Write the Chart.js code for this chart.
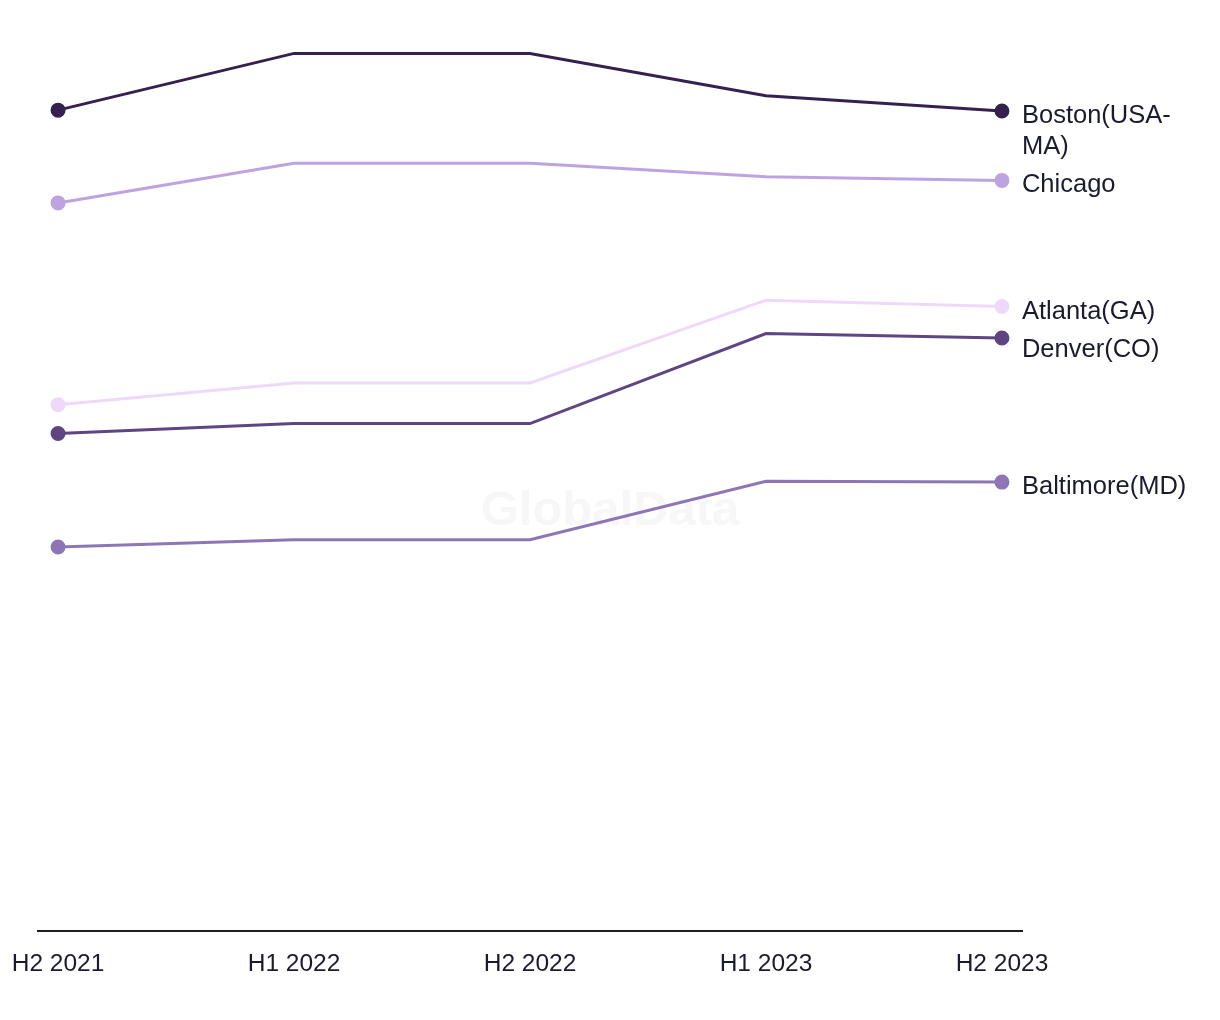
<!DOCTYPE html>
<html>
<head>
<meta charset="utf-8">
<script src="https://cdn.jsdelivr.net/npm/chart.js@4/dist/chart.umd.min.js"></script>
<style>
  html, body { margin: 0; padding: 0; background: #fff; }
  #wrap { width: 1220px; height: 1020px; position: relative; }
</style>
</head>
<body>
<div id="wrap"><canvas id="cityChart"></canvas></div>
<script>
// periods and series (relative index, no axis shown)
const periods = ["H2 2021", "H1 2022", "H2 2022", "H1 2023", "H2 2023"];
const cityNames = ["Boston(USA-MA)", "Chicago", "Atlanta(GA)", "Denver(CO)", "Baltimore(MD)"];
const boston = [91.1, 97.4, 97.4, 92.7, 91.0];
const chicago = [80.8, 85.2, 85.2, 83.7, 83.3];
const atlanta = [58.4, 60.8, 60.8, 70.0, 69.3];
const denver = [55.2, 56.3, 56.3, 66.3, 65.8];
const baltimore = [42.6, 43.4, 43.4, 49.9, 49.8];
const cityColors = ["#35214f", "#bea3e1", "#efd9fb", "#5d4681", "#8e76b6"];

const seriesValues = [boston, chicago, atlanta, denver, baltimore];
const textColor = "#1b1b2f";
const fontFamily = "'Liberation Sans', Arial, sans-serif";

// faint watermark behind the lines
const watermark = {
    id: "watermark",
    beforeDatasetsDraw(chart) {
        const { ctx } = chart;
        ctx.save();
        ctx.font = "bold 49px " + fontFamily;
        ctx.fillStyle = "#f7f7f7";
        ctx.textAlign = "center";
        ctx.textBaseline = "middle";
        ctx.fillText("GlobalData", chart.width / 2, 511);
        ctx.restore();
    }
};

// city names at the end of each line, pushed down when they collide
const endLabels = {
    id: "endLabels",
    afterDatasetsDraw(chart) {
        const { ctx } = chart;
        const lineH = 31;
        ctx.save();
        ctx.font = "25.5px " + fontFamily;
        ctx.fillStyle = textColor;
        ctx.textAlign = "left";
        ctx.textBaseline = "middle";
        let prevBottom = -Infinity;
        chart.data.datasets.forEach((ds, i) => {
            const pts = chart.getDatasetMeta(i).data;
            const last = pts[pts.length - 1];
            const x = last.x + 20;
            const maxW = chart.width - x - 8;
            let lines = [ds.label];
            if (ctx.measureText(ds.label).width > maxW && ds.label.includes("-")) {
                const cut = ds.label.indexOf("-") + 1;
                lines = [ds.label.slice(0, cut), ds.label.slice(cut)];
            }
            let y = Math.max(last.y + 5, prevBottom + 38);
            lines.forEach((t, k) => ctx.fillText(t, x, y + k * lineH));
            prevBottom = y + (lines.length - 1) * lineH;
        });
        ctx.restore();
    }
};

const ctx = document.getElementById("cityChart").getContext("2d");
new Chart(ctx, {
    type: "line",
    data: {
        datasets: cityNames.map((name, i) => ({
            label: name,
            data: seriesValues[i].map((v, k) => ({ x: k, y: v })),
            borderColor: cityColors[i],
            backgroundColor: cityColors[i],
            borderWidth: 3,
            // markers only at the two ends
            pointRadius: seriesValues[i].map((v, k) => (k === 0 || k === seriesValues[i].length - 1) ? 6 : 0),
            pointHoverRadius: 0,
            tension: 0,
            fill: false
        }))
    },
    options: {
        responsive: true,
        maintainAspectRatio: false,
        animation: false,
        layout: { padding: { left: 38, right: 198, top: 30, bottom: 30 } },
        plugins: { legend: { display: false }, tooltip: { enabled: false } },
        scales: {
            x: {
                type: "linear",
                min: -0.085,
                max: 4.085,
                grid: { display: false },
                border: { display: true, color: textColor, width: 2 },
                // let the first label hang past the axis start
                afterFit: s => { s.paddingLeft = 0; s.paddingRight = 0; },
                ticks: {
                    stepSize: 1,
                    includeBounds: false,
                    autoSkip: false,
                    maxRotation: 0,
                    padding: 11,
                    color: textColor,
                    font: { family: fontFamily, size: 24.5 },
                    callback: v => Number.isInteger(v) ? periods[v] : ""
                }
            },
            y: {
                display: false,
                min: 0,
                max: 100
            }
        }
    },
    plugins: [watermark, endLabels]
});
</script>
</body>
</html>
